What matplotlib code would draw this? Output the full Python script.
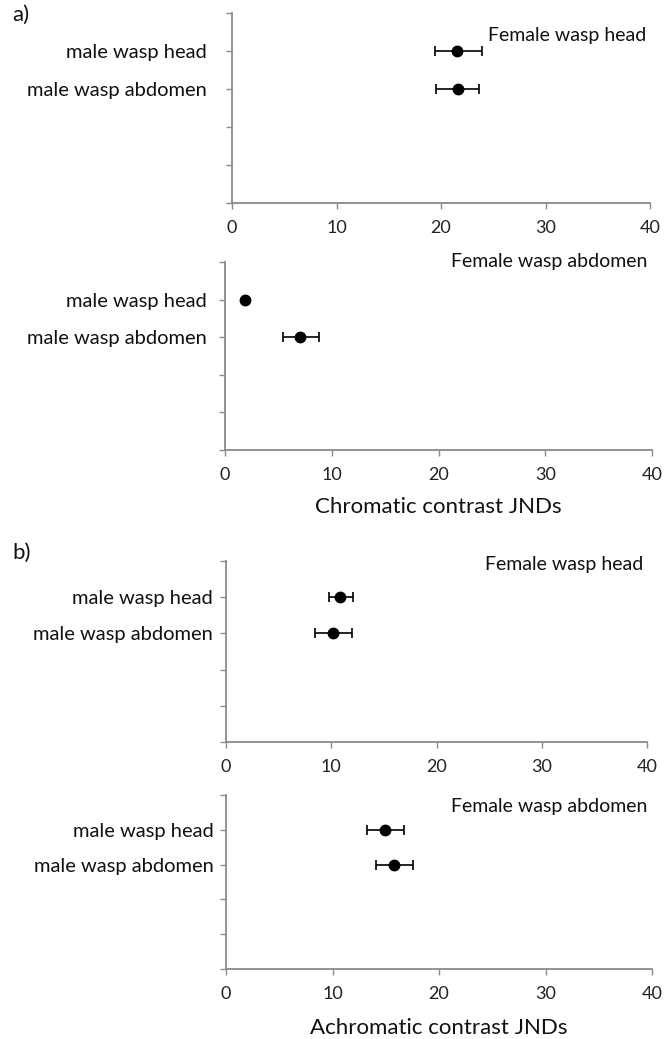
import matplotlib
matplotlib.use("Agg")
import matplotlib.pyplot as plt
import numpy as np

# ---- data ----
categories = ["male wasp head", "male wasp abdomen"]
cat_pos = [4, 3]
panel_titles = ["Female wasp head", "Female wasp abdomen", "Female wasp head", "Female wasp abdomen"]
xlabels = [None, "Chromatic contrast JNDs", None, "Achromatic contrast JNDs"]
panel_letters = ["a)", None, "b)", None]

means_p1 = [21.5, 21.6]
low_p1 = [19.4, 19.5]
high_p1 = [23.9, 23.6]

means_p2 = [1.9, 7.0]
low_p2 = [1.9, 5.4]
high_p2 = [1.9, 8.85]

means_p3 = [10.8, 10.2]
low_p3 = [9.8, 8.5]
high_p3 = [12.1, 12.0]

means_p4 = [14.9, 15.8]
low_p4 = [13.2, 14.05]
high_p4 = [16.75, 17.6]

xticks = [0, 10, 20, 30, 40]

W, H = 668, 1039
fig = plt.figure(figsize=(W / 100, H / 100), dpi=100)

FONT = ["Lato", "DejaVu Sans"]
AXC = "#8a8a8a"

# pixel boxes: left, right, top, bottom
boxes = [(232, 650, 13, 203), (225, 652, 262, 450), (226, 647, 561, 742), (226, 652, 795, 969)]
panels = [(means_p1, low_p1, high_p1), (means_p2, low_p2, high_p2),
          (means_p3, low_p3, high_p3), (means_p4, low_p4, high_p4)]
title_y = [4.42, 5.0, 4.9, 4.66]
ypads = [14, 9, 5.4, 4.6]
xlpads = [6, 10, 6, 12]

for i, ((l, r, t, b), (m, lo, hi)) in enumerate(zip(boxes, panels)):
    ax = fig.add_axes([l / W, 1 - b / H, (r - l) / W, (b - t) / H])
    m = np.array(m); lo = np.array(lo); hi = np.array(hi)
    ax.errorbar(m, cat_pos, xerr=[m - lo, hi - m], fmt="o", color="black",
                ecolor="black", elinewidth=1.2, capsize=3.5, capthick=1.2,
                markersize=7.5, zorder=3)
    ax.set_xlim(0, 40)
    ax.set_ylim(0, 5)
    ax.set_xticks(xticks)
    ax.set_xticklabels([str(v) for v in xticks], family=FONT, fontsize=13,
                       color="#222222")
    ax.set_yticks([0, 1, 2, 3, 4, 5])
    ylabs = ["" for _ in range(6)]
    for c, p in zip(categories, cat_pos):
        ylabs[p] = c
    ax.set_yticklabels(ylabs, family=FONT, fontsize=14.5, color="#111111")
    for s in ["top", "right"]:
        ax.spines[s].set_visible(False)
    for s in ["left", "bottom"]:
        ax.spines[s].set_color(AXC)
        ax.spines[s].set_linewidth(1.3)
    ax.tick_params(axis="y", direction="out", length=4, color=AXC, width=1.0, pad=ypads[i])
    ax.tick_params(axis="x", direction="out", length=4, color=AXC, width=1.0, pad=8)
    ax.text(39.6, title_y[i], panel_titles[i], ha="right", va="center",
            family=FONT, fontsize=14, color="#111111")
    if xlabels[i]:
        ax.set_xlabel(xlabels[i], family=FONT, fontsize=16, color="#111111", labelpad=xlpads[i])
    if panel_letters[i]:
        fig.text(12 / W, 1 - (15 if i == 0 else 553) / H, panel_letters[i],
                 ha="left", va="center", family=FONT, fontsize=16, color="#111111")

fig.savefig("out.png", dpi=100)
